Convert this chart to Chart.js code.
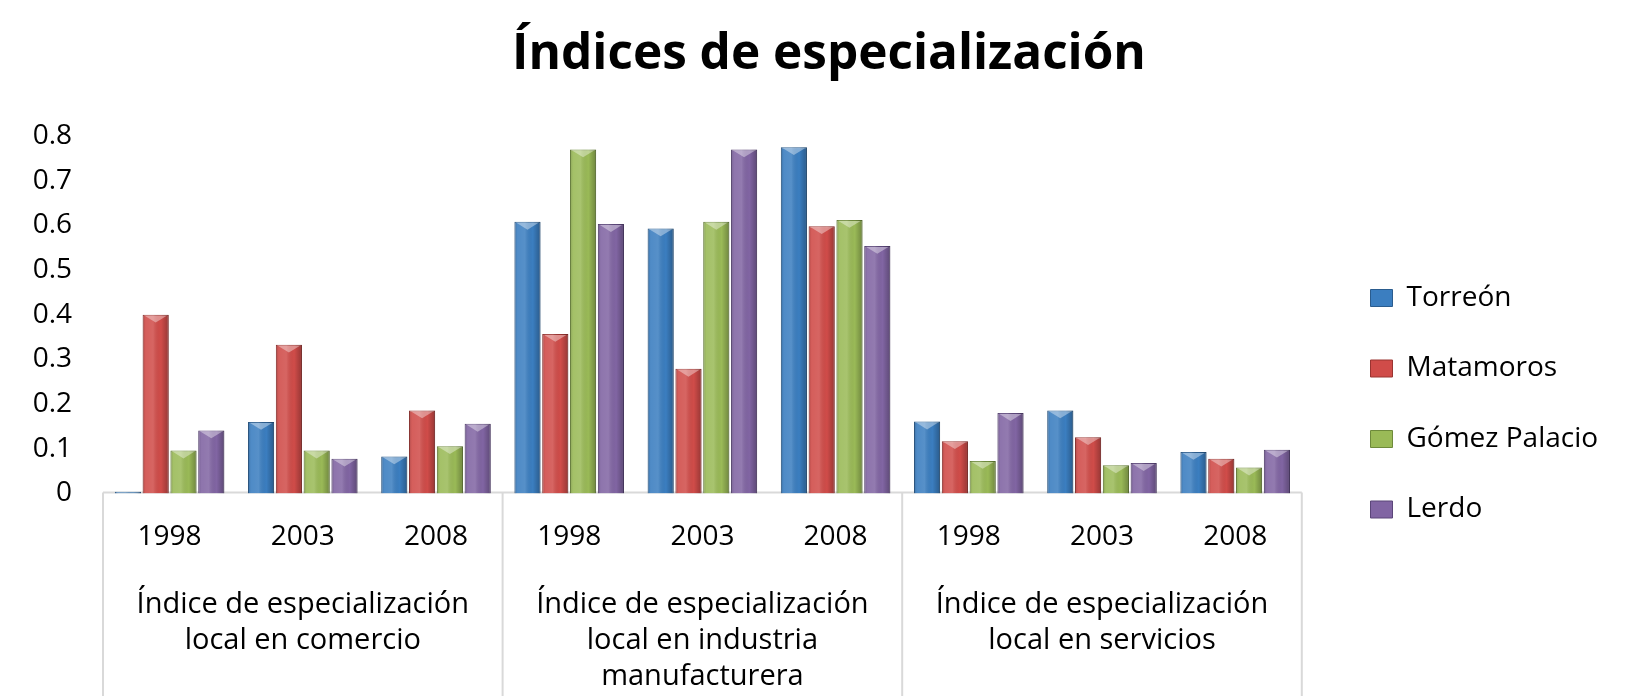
<!DOCTYPE html>
<html lang="es">
<head>
<meta charset="utf-8">
<title>Índices de especialización</title>
<script src="https://cdn.jsdelivr.net/npm/chart.js@4.4.1/dist/chart.umd.min.js"></script>
<style>
  html, body { margin: 0; padding: 0; background: #fff; }
</style>
</head>
<body>
<canvas id="myChart" width="1636" height="696"></canvas>
<script>
// Years for every bar cluster, three per index
const years = ['1998', '2003', '2008', '1998', '2003', '2008', '1998', '2003', '2008'];
// Group labels shown under the years
const groups = [
  ['Índice de especialización', 'local en comercio'],
  ['Índice de especialización', 'local en industria', 'manufacturera'],
  ['Índice de especialización', 'local en servicios']
];
const yearsPerGroup = 3;

const seriesNames = ['Torreón', 'Matamoros', 'Gómez Palacio', 'Lerdo'];

// Series values
const torreon   = [0.004, 0.160, 0.083, 0.608, 0.593, 0.775, 0.161, 0.186, 0.093];
const matamoros = [0.400, 0.333, 0.186, 0.357, 0.279, 0.598, 0.117, 0.126, 0.078];
const gomez     = [0.096, 0.096, 0.106, 0.770, 0.608, 0.612, 0.073, 0.063, 0.058];
const lerdo     = [0.141, 0.078, 0.156, 0.603, 0.770, 0.554, 0.180, 0.068, 0.098];

const yTicks = ['0', '0.1', '0.2', '0.3', '0.4', '0.5', '0.6', '0.7', '0.8'];

const FONT = 'Open Sans';

// Legend sizes, and the room needed right of it to sit where the original has it
const legendSize = 28;
const legendPad = 42.5;
const legendBox = 22;
const measure = document.createElement('canvas').getContext('2d');
measure.font = legendSize + 'px ' + FONT;
const widest = Math.max(...seriesNames.map(t => measure.measureText(t).width));
const legendWidth = legendPad + legendBox + legendSize / 2 + widest + 10;
const rightRoom = Math.max(0, 1636 - 1328 - legendWidth);
const leftPad = 22; // keeps the title a bit right of centre, like the original

// Box lines round the category labels (like the Excel axis table)
const tableLines = {
  id: 'tableLines',
  beforeDatasetsDraw(chart) {
    const {ctx, chartArea, scales: {x}} = chart;
    const edges = [];
    for (let g = 0; g <= groups.length; g++) {
      edges.push(x.getPixelForValue(g * yearsPerGroup - 0.5));
    }
    const top = chartArea.bottom - 1;
    ctx.save();
    ctx.strokeStyle = '#d9d9d9';
    ctx.lineWidth = 2;
    ctx.beginPath();
    ctx.moveTo(edges[0], top);
    ctx.lineTo(edges[edges.length - 1], top);
    edges.forEach(px => {
      ctx.moveTo(px, top);
      ctx.lineTo(px, chart.height);
    });
    ctx.stroke();
    ctx.restore();
  }
};

// Light bevel on each bar: side shading and the pale chevron at the top
const bevel = {
  id: 'bevel',
  afterDatasetsDraw(chart) {
    const {ctx} = chart;
    chart.data.datasets.forEach((ds, i) => {
      chart.getDatasetMeta(i).data.forEach(el => {
        const {x, y, base, width} = el.getProps(['x', 'y', 'base', 'width'], true);
        const l = x - width / 2, r = x + width / 2, h = base - y;
        if (h <= 1) return;
        ctx.save();
        ctx.beginPath();
        ctx.rect(l, y, width, h);
        ctx.clip();
        const g = ctx.createLinearGradient(l, 0, r, 0);
        g.addColorStop(0, 'rgba(0,0,0,0.18)');
        g.addColorStop(0.12, 'rgba(255,255,255,0.10)');
        g.addColorStop(0.4, 'rgba(255,255,255,0.14)');
        g.addColorStop(0.7, 'rgba(0,0,0,0)');
        g.addColorStop(1, 'rgba(0,0,0,0.28)');
        ctx.fillStyle = g;
        ctx.fillRect(l, y, width, h);
        ctx.beginPath();
        ctx.moveTo(l + 2, y + 1);
        ctx.lineTo(r - 2, y + 1);
        ctx.lineTo(x, y + width * 0.3);
        ctx.closePath();
        ctx.fillStyle = 'rgba(255,255,255,0.38)';
        ctx.fill();
        ctx.restore();
      });
    });
  }
};

const bar = (label, data, bg, border) => ({
  label, data,
  backgroundColor: bg,
  borderColor: border,
  borderWidth: 1,
  barPercentage: 0.94,
  categoryPercentage: 0.835
});

new Chart(document.getElementById('myChart'), {
  type: 'bar',
  data: {
    labels: years,
    datasets: [
      bar(seriesNames[0], torreon, '#3b7ec0', '#2a5c8e'),
      bar(seriesNames[1], matamoros, '#d04c49', '#9a3431'),
      bar(seriesNames[2], gomez, '#9aba57', '#6e8a3b'),
      bar(seriesNames[3], lerdo, '#8165a3', '#5b4679')
    ]
  },
  options: {
    responsive: false,
    animation: false,
    layout: { padding: { left: leftPad, right: 0, top: 0, bottom: 0 } },
    plugins: {
      title: {
        display: true,
        text: 'Índices de especialización',
        color: '#000',
        font: { family: FONT, size: 49.5, weight: 'bold' },
        padding: { top: 25, bottom: 51.6 }
      },
      legend: {
        position: 'right',
        maxWidth: 400,
        // empty title only pushes the items down to where the original has them
        title: { display: true, text: '', padding: { top: 48.5, bottom: 48.6 } },
        labels: {
          color: '#000',
          font: { family: FONT, size: legendSize },
          boxWidth: legendBox,
          boxHeight: 17,
          padding: legendPad
        }
      },
      tooltip: { enabled: false }
    },
    scales: {
      x: {
        grid: { display: false, drawTicks: false },
        border: { display: false },
        ticks: {
          color: '#000',
          font: { family: FONT, size: 28 },
          padding: 26.7,
          maxRotation: 0,
          autoSkip: false
        }
      },
      x2: {
        type: 'category',
        labels: groups,
        offset: true,
        weight: 1,
        grid: { display: false, drawTicks: false },
        border: { display: false },
        afterFit: s => { s.height = 115.5; },
        ticks: {
          color: '#000',
          font: { family: FONT, size: 29, lineHeight: 36 / 29 },
          padding: 6.5,
          maxRotation: 0,
          autoSkip: false
        }
      },
      y: {
        min: 0,
        max: 0.8,
        grid: { display: false, drawTicks: false },
        border: { display: false },
        afterFit: s => { s.width = 103 - leftPad; },
        ticks: {
          stepSize: 0.1,
          color: '#000',
          font: { family: FONT, size: 28 },
          padding: 31,
          callback: (v, i) => yTicks[i]
        }
      },
      // spacer between the plot and the legend
      gap: {
        position: 'right',
        grid: { display: false, drawTicks: false },
        border: { display: false },
        ticks: { display: false },
        afterFit: s => { s.width = 26.2; }
      },
      // empty room right of the legend
      edge: {
        position: 'right',
        weight: 2000,
        grid: { display: false, drawTicks: false },
        border: { display: false },
        ticks: { display: false },
        afterFit: s => { s.width = rightRoom; }
      }
    }
  },
  plugins: [tableLines, bevel]
});
</script>
</body>
</html>
